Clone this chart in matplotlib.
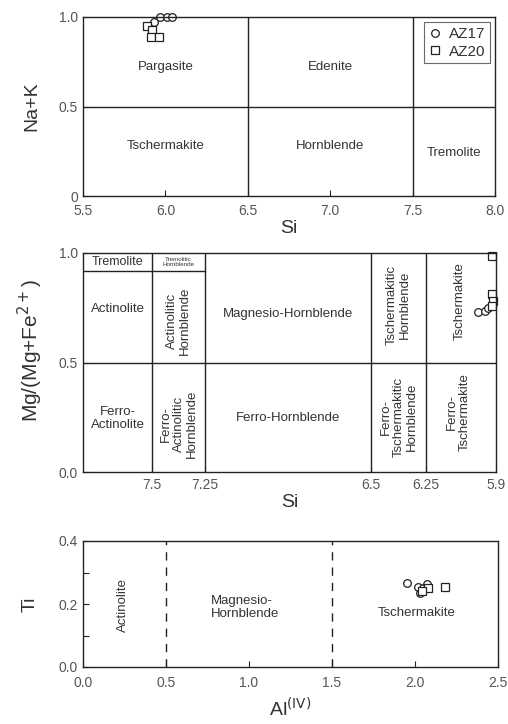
import numpy as np
import matplotlib
matplotlib.use('Agg')
from matplotlib import pyplot as plt

plt.rcParams['font.family'] = ['Liberation Sans', 'DejaVu Sans']

# --- top panel: Na+K vs Si
az17_si_top = [5.93, 5.97, 6.01, 6.04]
az17_nak_top = [0.97, 1.0, 1.0, 1.0]
az20_si_top = [5.89, 5.92, 5.91, 5.96]
az20_nak_top = [0.95, 0.93, 0.89, 0.89]

# --- middle panel: Mg/(Mg+Fe2+) vs Si (schematic, reversed axis)
az17_si_mid = [5.99, 5.955, 5.94]
az17_mg_mid = [0.73, 0.735, 0.75]
az20_si_mid = [5.92, 5.92, 5.915, 5.92]
az20_mg_mid = [0.985, 0.815, 0.78, 0.76]
mid_ticks = [7.5, 7.25, 6.5, 6.25, 5.9]
mid_ticklabels = ['7.5', '7.25', '6.5', '6.25', '5.9']

# --- bottom panel: Ti vs Al(IV)
az17_al = [1.95, 2.02, 2.05, 2.07, 2.03]
az17_ti = [0.267, 0.254, 0.25, 0.264, 0.235]
az20_al = [2.18, 2.08, 2.04]
az20_ti = [0.254, 0.25, 0.24]

TXT = '#333333'
TICK = '#555555'
LINE = '#222222'
mk = dict(linestyle='none', mfc='white', mec='#222222', ms=5.5, mew=0.9, clip_on=False)
fs = 9.5

fig = plt.figure(figsize=(5.08, 7.24), dpi=100)


def style(ax, pad):
    for s in ax.spines.values():
        s.set_color(LINE)
        s.set_linewidth(1.0)
    ax.tick_params(direction='in', length=4, width=0.8, colors=LINE,
                   labelcolor=TICK, labelsize=10)
    ax.tick_params(axis='x', pad=pad)
    ax.tick_params(which='minor', direction='in', length=4, width=0.8, colors=LINE)


# ---------------- top
ax1 = fig.add_axes([83/508, 1-196/724, 412/508, 179/724])
style(ax1, 5.5)
ax1.set_xlim(5.5, 8.0)
ax1.set_ylim(0, 1.0)
ax1.set_xticks(np.arange(5.5, 8.01, 0.5))
ax1.set_xticklabels(['5.5', '6.0', '6.5', '7.0', '7.5', '8.0'])
ax1.set_yticks([0, 0.5, 1.0])
ax1.set_yticklabels(['0', '0.5', '1.0'])
ax1.axhline(0.5, color=LINE, lw=1.0)
ax1.axvline(6.5, color=LINE, lw=1.0)
ax1.axvline(7.5, color=LINE, lw=1.0)
ax1.text(6.0, 0.72, 'Pargasite', ha='center', va='center', fontsize=fs, color=TXT)
ax1.text(7.0, 0.72, 'Edenite', ha='center', va='center', fontsize=fs, color=TXT)
ax1.text(6.0, 0.28, 'Tschermakite', ha='center', va='center', fontsize=fs, color=TXT)
ax1.text(7.0, 0.28, 'Hornblende', ha='center', va='center', fontsize=fs, color=TXT)
ax1.text(7.75, 0.24, 'Tremolite', ha='center', va='center', fontsize=fs, color=TXT)
ax1.plot(az17_si_top, az17_nak_top, marker='o', label='AZ17', **mk)
ax1.plot(az20_si_top, az20_nak_top, marker='s', label='AZ20', **mk)
leg = ax1.legend(loc='upper right', fontsize=11, frameon=True, fancybox=False,
                 handlelength=0.8, handletextpad=0.5, borderpad=0.3,
                 labelspacing=0.25, borderaxespad=0.35)
leg.get_frame().set_edgecolor('#444444')
leg.get_frame().set_linewidth(0.8)
for t in leg.get_texts():
    t.set_color(TXT)
ax1.set_xlabel('Si', fontsize=14, color=TXT, labelpad=2)
ax1.set_ylabel('Na+K', fontsize=14, color=TXT)
ax1.yaxis.set_label_coords(-0.104, 0.5)

# ---------------- middle (schematic Si scale)
si_knots = [5.9, 6.25, 6.5, 7.25, 7.5, 7.8]
pos_knots = [0, 70, 125, 291, 344, 413]


def fwd(x):
    return np.interp(x, si_knots, pos_knots)


def inv(p):
    return np.interp(p, pos_knots, si_knots)


ax2 = fig.add_axes([83/508, 1-472/724, 413/508, 219/724])
style(ax2, 4.5)
ax2.set_xscale('function', functions=(fwd, inv))
ax2.set_xlim(7.8, 5.9)
ax2.set_ylim(0, 1.0)
ax2.set_xticks(mid_ticks)
ax2.set_xticklabels(mid_ticklabels)
ax2.xaxis.set_minor_locator(matplotlib.ticker.NullLocator())
ax2.set_yticks([0, 0.5, 1.0])
ax2.set_yticklabels(['0.0', '0.5', '1.0'])
for v in [7.5, 7.25, 6.5, 6.25]:
    ax2.axvline(v, color=LINE, lw=1.0)
ax2.axhline(0.5, color=LINE, lw=1.0)
ax2.plot([7.8, 7.25], [0.92, 0.92], color=LINE, lw=1.0)

ax2.text(7.65, 0.96, 'Tremolite', ha='center', va='center', fontsize=9, color=TXT)
ax2.text(7.375, 0.96, 'Tremolitic\nHornblende', ha='center', va='center',
         fontsize=4.5, color=TXT, linespacing=1.0)
ax2.text(7.65, 0.745, 'Actinolite', ha='center', va='center', fontsize=fs, color=TXT)
ax2.text(7.375, 0.69, 'Actinolitic\nHornblende', ha='center', va='center',
         fontsize=fs, color=TXT, rotation=90, linespacing=1.1)
ax2.text(6.875, 0.72, 'Magnesio-Hornblende', ha='center', va='center', fontsize=fs, color=TXT)
ax2.text(6.375, 0.765, 'Tschermakitic\nHornblende', ha='center', va='center',
         fontsize=fs, color=TXT, rotation=90, linespacing=1.1)
ax2.text(6.08, 0.78, 'Tschermakite', ha='center', va='center',
         fontsize=fs, color=TXT, rotation=90)
ax2.text(7.65, 0.245, 'Ferro-\nActinolite', ha='center', va='center',
         fontsize=fs, color=TXT, linespacing=1.1)
ax2.text(7.375, 0.22, 'Ferro-\nActinolitic\nHornblende', ha='center', va='center',
         fontsize=fs, color=TXT, rotation=90, linespacing=1.1)
ax2.text(6.875, 0.245, 'Ferro-Hornblende', ha='center', va='center', fontsize=fs, color=TXT)
ax2.text(6.375, 0.25, 'Ferro-\nTschermakitic\nHornblende', ha='center', va='center',
         fontsize=fs, color=TXT, rotation=90, linespacing=1.1)
ax2.text(6.09, 0.275, 'Ferro-\nTschermakite', ha='center', va='center',
         fontsize=fs, color=TXT, rotation=90, linespacing=1.1)

ax2.plot(az17_si_mid, az17_mg_mid, marker='o', **mk)
ax2.plot(az20_si_mid, az20_mg_mid, marker='s', **mk)
ax2.set_xlabel('Si', fontsize=14, color=TXT, labelpad=1)
ax2.set_ylabel(r'Mg/(Mg+Fe$^{2+}$)', fontsize=15, color=TXT)
ax2.yaxis.set_label_coords(-0.091, 0.555)

# ---------------- bottom
ax3 = fig.add_axes([83/508, 1-667/724, 415/508, 126/724])
style(ax3, 6.5)
ax3.set_xlim(0, 2.5)
ax3.set_ylim(0, 0.4)
ax3.set_xticks(np.arange(0, 2.51, 0.5))
ax3.set_xticklabels(['0.0', '0.5', '1.0', '1.5', '2.0', '2.5'])
ax3.set_yticks([0, 0.2, 0.4])
ax3.set_yticklabels(['0.0', '0.2', '0.4'])
ax3.set_yticks([0.1, 0.3], minor=True)
ax3.axvline(0.5, color=LINE, lw=1.0, ls=(0, (6, 5)))
ax3.axvline(1.5, color=LINE, lw=1.0, ls=(0, (6, 5)))
ax3.text(0.24, 0.197, 'Actinolite', ha='center', va='center', fontsize=fs,
         color=TXT, rotation=90)
ax3.text(0.77, 0.19, 'Magnesio-\nHornblende', ha='left', va='center',
         fontsize=fs, color=TXT, linespacing=1.1)
ax3.text(2.01, 0.17, 'Tschermakite', ha='center', va='center', fontsize=fs, color=TXT)
ax3.plot(az17_al, az17_ti, marker='o', **mk)
ax3.plot(az20_al, az20_ti, marker='s', **mk)
ax3.set_xlabel(r'Al$^{\rm (IV)}$', fontsize=14, color=TXT, labelpad=5)
ax3.set_ylabel('Ti', fontsize=14, color=TXT)
ax3.yaxis.set_label_coords(-0.106, 0.5)

fig.savefig('out.png', dpi=100)
